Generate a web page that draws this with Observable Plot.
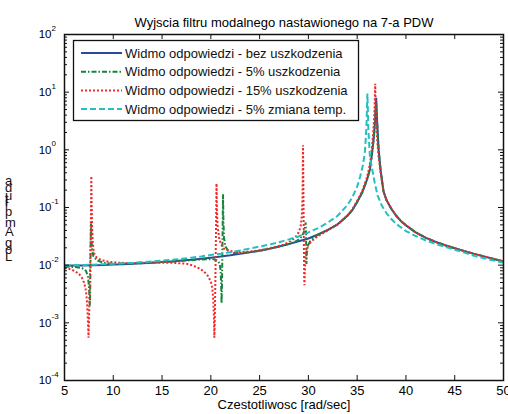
<!DOCTYPE html>
<html><head><meta charset="utf-8">
<script src="https://cdn.jsdelivr.net/npm/d3@7"></script>
<script src="https://cdn.jsdelivr.net/npm/@observablehq/plot@0.6"></script>
<style>html,body{margin:0;padding:0;background:#fff;} svg{display:block;}</style>
</head><body><div id="chart"></div>
<script>
const title = "Wyjscia filtru modalnego nastawionego na 7-a PDW";
const xLabel = "Czestotliwosc [rad/sec]";
const yLabel = "Log Amplituda";
const seriesLabels = [
  "Widmo odpowiedzi - bez uszkodzenia",
  "Widmo odpowiedzi - 5% uszkodzenia",
  "Widmo odpowiedzi - 15% uszkodzenia",
  "Widmo odpowiedzi - 5% zmiana temp."
];
const xTicks = [5, 10, 15, 20, 25, 30, 35, 40, 45, 50];
const yTicks = [1e-4, 1e-3, 1e-2, 1e-1, 1e0, 1e1, 1e2];
const yTickExponents = ["-4", "-3", "-2", "-1", "0", "1", "2"];

// [frequency rad/s, amplitude]
const bezUszkodzenia = [[5,0.0098],[6,0.0099],[7,0.0099],[8,0.0100],[9,0.0101],[10,0.0103],[11,0.0104],[12,0.0106],[13,0.0108],[14,0.0110],[15,0.0113],[16,0.0116],[17,0.0120],[18,0.0124],[19,0.0129],[20,0.0135],[21,0.0141],[22,0.0148],[23,0.0157],[24,0.0167],[25,0.0178],[26,0.0192],[27,0.0210],[28,0.0232],[29,0.0260],[30,0.0290],[31,0.0340],[32,0.0410],[33,0.0510],[34,0.0720],[34.5,0.090],[35,0.125],[35.5,0.18],[36,0.30],[36.3,0.45],[36.5,0.80],[36.7,1.6],[36.85,3.5],[36.95,8.0],[37.05,3.0],[37.2,1.0],[37.4,0.45],[37.7,0.19],[38,0.135],[38.5,0.095],[39,0.072],[39.5,0.058],[40,0.049],[41,0.037],[42,0.030],[43,0.0255],[44,0.0222],[45,0.0196],[46,0.0175],[47,0.0157],[48,0.0142],[49,0.0128],[50,0.0116]];

const uszkodzenie5 = [[5,0.0094],[6,0.0093],[6.8,0.0089],[7.2,0.0080],[7.4,0.0063],[7.5,0.0045],[7.56,0.0028],[7.6,0.0020],[7.63,0.0032],[7.66,0.0085],[7.69,0.025],[7.72,0.053],[7.76,0.030],[7.82,0.020],[7.95,0.0145],[8.3,0.0122],[9,0.0110],[10,0.0106],[12,0.0107],[14,0.0111],[16,0.0116],[18,0.0122],[19.5,0.0127],[20.3,0.0127],[20.7,0.0120],[20.9,0.0106],[21.0,0.0082],[21.06,0.0048],[21.1,0.0022],[21.14,0.0042],[21.18,0.015],[21.22,0.06],[21.25,0.17],[21.29,0.06],[21.35,0.030],[21.5,0.021],[21.8,0.0175],[22.3,0.0162],[23,0.0162],[24,0.0168],[25,0.0178],[26,0.0192],[27,0.0210],[28,0.0234],[28.8,0.0262],[29.3,0.031],[29.55,0.038],[29.68,0.048],[29.72,0.055],[29.76,0.033],[29.8,0.0105],[29.84,0.016],[29.95,0.022],[30.2,0.0262],[30.6,0.030],[31,0.034],[32,0.041],[33,0.051],[34,0.072],[34.5,0.090],[35,0.125],[35.5,0.18],[36,0.30],[36.3,0.45],[36.5,0.80],[36.7,1.6],[36.85,3.4],[36.95,6.5],[37.05,3.0],[37.2,1.0],[37.4,0.45],[37.7,0.19],[38,0.135],[38.5,0.095],[39,0.072],[39.5,0.058],[40,0.049],[41,0.037],[42,0.030],[43,0.0255],[44,0.0222],[45,0.0196],[46,0.0175],[47,0.0157],[48,0.0142],[49,0.0128],[50,0.0116]];

const uszkodzenie15 = [[5,0.0088],[5.5,0.0086],[6,0.0080],[6.5,0.0070],[6.8,0.0060],[7.0,0.0050],[7.15,0.0040],[7.25,0.0030],[7.33,0.0020],[7.4,0.0011],[7.46,0.00055],[7.52,0.0012],[7.58,0.004],[7.64,0.012],[7.69,0.04],[7.73,0.15],[7.75,0.35],[7.78,0.12],[7.83,0.045],[7.9,0.025],[8.0,0.0165],[8.3,0.0135],[8.8,0.0122],[9.5,0.0115],[10.5,0.0110],[12,0.0109],[14,0.0110],[16,0.0110],[17.5,0.0106],[18.2,0.0098],[18.8,0.0088],[19.3,0.0078],[19.7,0.0065],[20.0,0.0052],[20.15,0.0040],[20.25,0.0025],[20.32,0.0012],[20.36,0.00055],[20.41,0.0013],[20.47,0.006],[20.52,0.03],[20.56,0.10],[20.58,0.26],[20.62,0.09],[20.7,0.045],[20.85,0.030],[21.0,0.024],[21.3,0.0195],[21.8,0.0178],[22.5,0.0170],[23.5,0.0170],[24.5,0.0176],[25.5,0.0188],[26.5,0.0205],[27.5,0.0228],[28.2,0.0262],[28.7,0.031],[29.0,0.037],[29.2,0.046],[29.32,0.07],[29.4,0.15],[29.45,1.2],[29.5,0.12],[29.54,0.02],[29.57,0.006],[29.6,0.0045],[29.64,0.008],[29.7,0.015],[29.8,0.019],[30.0,0.0225],[30.3,0.026],[31,0.032],[32,0.040],[33,0.051],[34,0.073],[34.5,0.092],[35,0.13],[35.5,0.19],[36,0.33],[36.3,0.55],[36.5,1.0],[36.65,2.0],[36.78,5.0],[36.85,14],[36.92,4.0],[37.05,1.5],[37.2,0.75],[37.4,0.40],[37.7,0.19],[38,0.135],[38.5,0.095],[39,0.072],[39.5,0.058],[40,0.049],[41,0.037],[42,0.030],[43,0.0255],[44,0.0222],[45,0.0196],[46,0.0175],[47,0.0157],[48,0.0142],[49,0.0128],[50,0.0116]];

const zmianaTemp5 = [[5,0.0099],[6,0.0100],[7,0.0101],[8,0.0102],[9,0.0104],[10,0.0106],[11,0.0108],[12,0.0110],[13,0.0113],[14,0.0116],[15,0.0120],[16,0.0124],[17,0.0129],[18,0.0135],[19,0.0142],[20,0.0150],[21,0.0158],[22,0.0168],[23,0.0180],[24,0.0194],[25,0.0210],[26,0.0228],[27,0.0250],[28,0.0280],[29,0.0315],[30,0.037],[31,0.044],[32,0.055],[33,0.072],[34,0.11],[34.5,0.15],[35,0.23],[35.3,0.34],[35.6,0.55],[35.8,0.95],[35.95,2.5],[36.05,9.5],[36.15,2.2],[36.3,0.8],[36.5,0.5],[36.8,0.27],[37.1,0.16],[37.5,0.11],[38,0.08],[38.5,0.063],[39,0.052],[40,0.039],[41,0.032],[42,0.027],[43,0.0235],[44,0.0208],[45,0.0185],[46,0.0165],[47,0.0145],[48,0.0132],[49,0.012],[50,0.0110]];

const seriesData = [bezUszkodzenia, uszkodzenie5, uszkodzenie15, zmianaTemp5];
const seriesColors = ["#2a4a9c", "#16843c", "#f02a2a", "#22c0c2"];
const seriesDash = [null, "5,2,1.5,2", "2,2", "6,3"];

const yMinorTicks = [];
[1e-4, 1e-3, 1e-2, 1e-1, 1, 10].forEach(d => { for (let m = 2; m <= 9; m++) yMinorTicks.push(m * d); });

const W = 508, H = 414, mL = 64, mR = 5, mT = 34, mB = 34;
const fw = W - mL - mR, fh = H - mT - mB;

const lineMarks = seriesData.map((s, i) => Plot.line(s, {
  x: d => d[0], y: d => d[1], stroke: seriesColors[i], strokeWidth: 2,
  strokeLinecap: "butt", strokeLinejoin: "miter",
  strokeDasharray: seriesDash[i] || undefined
}));

const chart = Plot.plot({
  width: W, height: H,
  marginLeft: mL, marginRight: mR, marginTop: mT, marginBottom: mB,
  x: {domain: [5, 50], axis: null},
  y: {type: "log", domain: [1e-4, 1e2], axis: null},
  style: {fontFamily: "'Liberation Sans', Arial, sans-serif", fontSize: "13px", background: "white", color: "black"},
  marks: [
    ...lineMarks,
    Plot.frame({stroke: "#111", strokeWidth: 1.5}),
    Plot.tickX(xTicks, {x: d => d, insetTop: fh - 5, stroke: "#111"}),
    Plot.tickX(xTicks, {x: d => d, insetBottom: fh - 5, stroke: "#111"}),
    Plot.tickY(yTicks, {y: d => d, insetRight: fw - 5, stroke: "#111"}),
    Plot.tickY(yTicks, {y: d => d, insetLeft: fw - 5, stroke: "#111"}),
    Plot.tickY(yMinorTicks, {y: d => d, insetRight: fw - 3, stroke: "#111"}),
    Plot.tickY(yMinorTicks, {y: d => d, insetLeft: fw - 3, stroke: "#111"}),
    Plot.text(xTicks, {x: d => d, frameAnchor: "bottom", dy: 14, text: d => String(d), fontSize: 13}),
    Plot.text(yTicks, {y: d => d, frameAnchor: "left", dx: -13, textAnchor: "end", text: () => "10", fontSize: 11.5}),
    Plot.text(yTicks, {y: d => d, frameAnchor: "left", dx: -13, dy: -6, textAnchor: "start", text: (d, i) => yTickExponents[i], fontSize: 8}),
    Plot.text([xLabel], {frameAnchor: "bottom", dy: 28, text: d => d, fontSize: 13}),
    Plot.text([title], {frameAnchor: "top", dy: -17, text: d => d, fontSize: 13})
  ]
});
document.getElementById("chart").appendChild(chart);

const svg = d3.select(chart);
// legend
const lg = svg.append("g").attr("font-family", "'Liberation Sans', Arial, sans-serif")
  .attr("font-size", 13).attr("text-anchor", "start");
lg.append("rect").attr("x", 73.5).attr("y", 40.5).attr("width", 285).attr("height", 80)
  .attr("fill", "white").attr("stroke", "#111").attr("stroke-width", 1.3);
seriesLabels.forEach((lab, i) => {
  const y = 53 + i * 18.7;
  const ln = lg.append("line").attr("x1", 81).attr("x2", 122).attr("y1", y).attr("y2", y)
    .attr("stroke", seriesColors[i]).attr("stroke-width", 2).attr("stroke-linecap", "butt");
  if (seriesDash[i]) ln.attr("stroke-dasharray", seriesDash[i]);
  lg.append("text").attr("x", 125).attr("y", y).attr("dy", "0.35em").attr("fill", "#111")
    .attr("text-anchor", "start").text(lab);
});

// y label: upright characters stacked bottom-to-top (as in the reference)
const cvs = document.createElement("canvas").getContext("2d");
cvs.font = "13px 'Liberation Sans', Arial, sans-serif";
let yy = 261;
const yl = svg.append("g").attr("font-family", "'Liberation Sans', Arial, sans-serif")
  .attr("font-size", 13).attr("fill", "#111").attr("text-anchor", "start");
for (const ch of yLabel) {
  if (ch !== " ") yl.append("text").attr("x", 5).attr("y", yy).attr("text-anchor", "start").text(ch);
  yy -= cvs.measureText(ch).width;
}
</script></body></html>
